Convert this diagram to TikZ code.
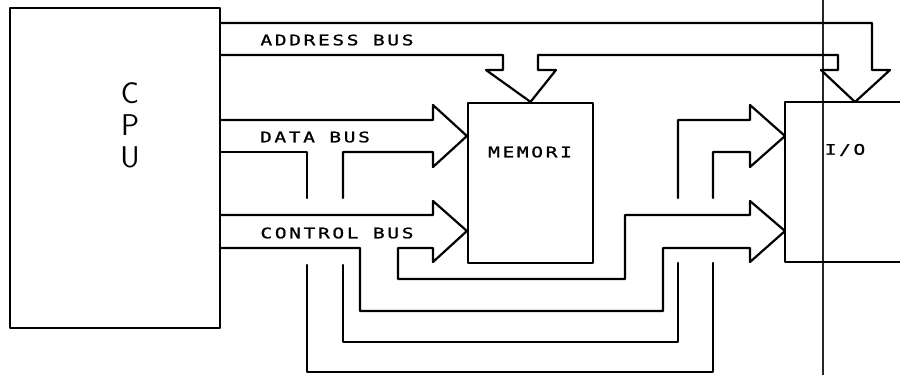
\documentclass[tikz,border=0pt]{standalone}
\usepackage{fontspec}
\newfontfamily\plotfont[FakeStretch=1.35,FakeBold=1.2,LetterSpace=18]{DejaVu Sans Mono}
\begin{document}
\begin{tikzpicture}[x=1pt,y=-1pt,line width=2.2pt,line join=round,line cap=round,
  box/.style={draw,line width=2.2pt,inner sep=0pt},
  lbl/.style={font=\plotfont\fontsize{14.5}{15}\selectfont,inner sep=0pt},
  cpul/.style={font=\sffamily\fontsize{30}{30}\selectfont,inner sep=0pt}]
\useasboundingbox (0,0) rectangle (900,375);
\fill[white] (0,0) rectangle (900,375);
% stray vertical line
\draw[line width=2.6pt,black!85] (823,0) -- (823,375);
% boxes
\node[box,minimum width=210pt,minimum height=320pt] (cpu) at (115,168) {};
\node[box,minimum width=125pt,minimum height=160pt] (mem) at (530.5,183) {};
\draw (900,102) -- (785,102) -- (785,262) -- (900,262);
% CPU letters
\node[cpul] (c) at (130,93) {C};
\node[cpul] (p) at (130,125) {P};
\node[cpul] (u) at (130,157) {U};
% labels
\node[lbl] (addr) at (337,40) {ADDRESS BUS};
\node[lbl] (data) at (315,137) {DATA BUS};
\node[lbl] (ctrl) at (337,233) {CONTROL BUS};
\node[lbl] (meml) at (530,152) {MEMORI};
\node[lbl] (io) at (845,150) {I/O};
% address bus
\draw (cpu.east |- 0,23) -- (872,23) -- (872,70) -- (890,70) -- (855,102) -- (821,70) -- (838,70) -- (838,55)
  -- (538,55) -- (538,70) -- (556,70) -- (mem.north) -- (486,70) -- (503,70) -- (503,55) -- (cpu.east |- 0,55);
% data bus
\draw (cpu.east |- 0,120) -- (433,120) -- (433,105) -- (mem.west |- 0,136) -- (433,167) -- (433,152) -- (343,152) -- (343,198);
\draw (343,265) -- (343,342) -- (678,342) -- (678,263);
\draw (678,198) -- (678,120) -- (750,120) -- (750,105) -- (785,136) -- (750,167) -- (750,152) -- (713,152) -- (713,198);
\draw (713,263) -- (713,372) -- (307,372) -- (307,265);
\draw (307,198) -- (307,152) -- (cpu.east |- 0,152);
% control bus
\draw (cpu.east |- 0,215) -- (433,215) -- (433,201) -- (mem.west |- 0,231) -- (433,262) -- (433,248) -- (398,248) -- (398,279)
  -- (625,279) -- (625,215) -- (750,215) -- (750,201) -- (785,231) -- (750,262) -- (750,248) -- (663,248) -- (663,311)
  -- (360,311) -- (360,248) -- (cpu.east |- 0,248);
\end{tikzpicture}
\end{document}
